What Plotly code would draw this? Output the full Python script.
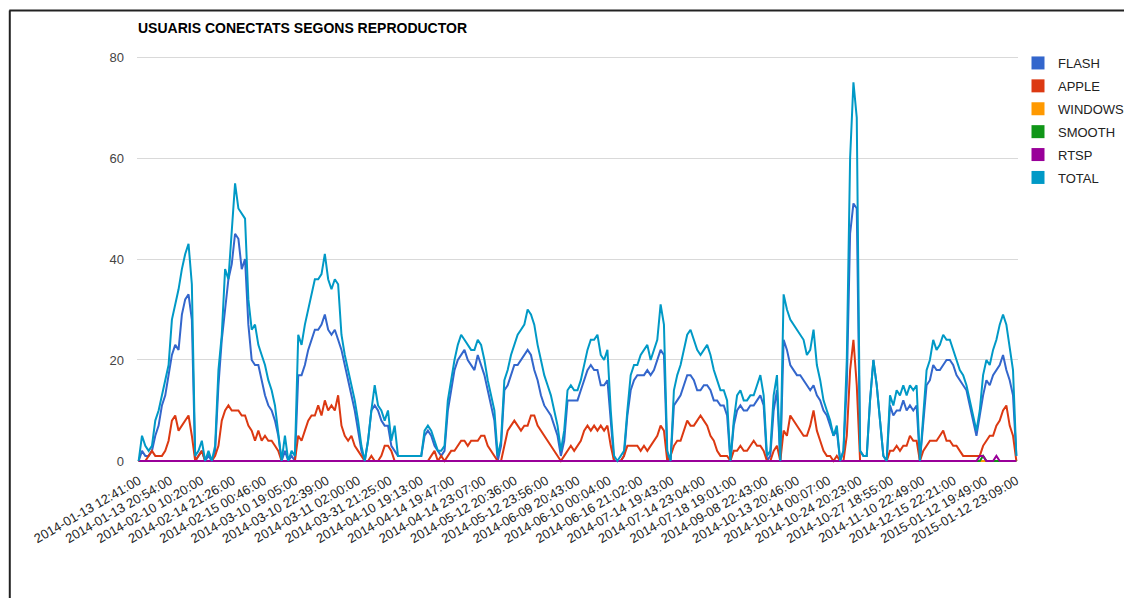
import plotly.graph_objects as go

# textos
titol = "USUARIS CONECTATS SEGONS REPRODUCTOR"
etiquetes = [
    "2014-01-13 12:41:00", "2014-01-13 20:54:00", "2014-02-10 10:20:00",
    "2014-02-14 21:26:00", "2014-02-15 00:46:00", "2014-03-10 19:05:00",
    "2014-03-10 22:39:00", "2014-03-11 02:00:00", "2014-03-31 21:25:00",
    "2014-04-10 19:13:00", "2014-04-14 19:47:00", "2014-04-14 23:07:00",
    "2014-05-12 20:36:00", "2014-05-12 23:56:00", "2014-06-09 20:43:00",
    "2014-06-10 00:04:00", "2014-06-16 21:02:00", "2014-07-14 19:43:00",
    "2014-07-14 23:04:00", "2014-07-18 19:01:00", "2014-09-08 22:43:00",
    "2014-10-13 20:46:00", "2014-10-14 00:07:00", "2014-10-24 20:23:00",
    "2014-10-27 18:55:00", "2014-11-10 22:49:00", "2014-12-15 22:21:00",
    "2015-01-12 19:49:00", "2015-01-12 23:09:00",
]

# usuaris per reproductor (llegits del grafic)
flash = [
    0, 2, 1, 1, 2, 5, 7, 11, 13, 17, 21, 23, 22, 29, 32, 33, 28, 0, 1, 2, 0, 1, 0, 2, 15, 24, 30, 36, 39, 45, 44,
    38, 40, 27, 20, 19, 19, 16, 13, 11, 10, 8, 5, 0, 2, 0, 1, 0, 17, 17, 19, 22, 24, 26, 26, 27, 29, 26, 25, 26, 24,
    22, 19, 16, 13, 10, 6, 2, 0, 4, 10, 11, 10, 8, 7, 7, 3, 2, 1, 1, 1, 1, 1, 1, 1, 1, 5, 6, 5, 3, 2, 1, 2, 10,
    14, 18, 20, 21, 22, 20, 19, 18, 21, 19, 17, 14, 11, 8, 0, 3, 14, 15, 17, 19, 19, 20, 21, 22, 21, 18, 16, 13,
    11, 10, 9, 7, 5,
    1, 4, 12, 12, 12, 12, 14, 16, 18, 19, 18, 18, 15, 15, 16, 8, 0, 0, 0, 1, 9, 14, 16, 17, 17, 17, 18, 17, 18,
    20, 22, 21, 1, 0, 11, 12, 13, 15, 17, 17, 16, 14, 14, 15, 15, 14, 12, 12, 11, 11, 9, 0, 7, 10, 11, 10, 10, 11,
    11, 12, 13, 11, 0, 1, 10, 14, 0,
    24, 22, 19, 18, 17, 17, 16, 15, 14, 15, 13, 12, 10, 9, 7, 5, 6, 0, 2, 15, 45, 51, 50, 2, 1, 1, 12, 20, 15, 8,
    1, 0, 11, 9, 10, 10, 12, 10, 11, 10, 11, 0, 7, 15, 16, 19, 18, 18, 19, 20, 20, 19, 17, 16, 15, 14, 11, 8, 5,
    9, 13, 16, 15, 17, 18, 19, 21, 18, 16, 13, 1,
]
apple = [
    0, 0, 0, 1, 2, 1, 1, 1, 2, 4, 8, 9, 6, 7, 8, 9, 5, 0, 1, 2, 0, 0, 0, 1, 3, 8, 10, 11, 10, 10, 10, 9, 9, 7, 6,
    4, 6, 4, 5, 4, 4, 3, 2, 0, 0, 0, 0, 0, 5, 4, 6, 8, 9, 9, 11, 9, 12, 10, 11, 10, 13,
    7, 5, 4, 5, 3, 2, 1, 0, 0, 1, 0, 0, 1, 3, 3, 2, 0, 0, 0, 0, 0, 0, 0, 0, 0, 0, 0, 1, 2, 0, 1, 0, 1, 2, 2, 3,
    4, 4, 3, 4, 4, 4, 5, 5, 3, 2, 1, 0, 0, 3, 6, 7, 8, 7, 6, 7, 7, 9, 9, 7, 6, 5, 4, 3, 2, 1,
    0, 1, 2, 3, 2, 3, 4, 6, 7, 6, 7, 6, 7, 6, 7, 3, 0, 0, 0, 1, 3, 3, 3, 3, 2, 3, 2, 3, 4, 5, 7, 6, 0, 1, 3, 4,
    4, 6, 8, 7, 7, 8, 9, 8, 7, 5, 4, 2, 1, 1, 1, 0, 2, 2, 3, 2, 2, 3, 4, 3, 3, 2, 0, 0, 2, 3, 0,
    6, 5, 9, 8, 7, 6, 5, 5, 7, 10, 6, 4, 2, 1, 1, 0, 1, 0, 0, 5, 18, 24, 15, 0, 0, 0, 0, 0, 0, 0, 0, 0, 2, 2, 3,
    2, 3, 3, 5, 4, 4, 0, 2, 3, 4, 4, 4, 5, 6, 4, 4, 3, 3, 2, 1, 1, 1, 1, 1, 1, 3, 4, 5, 5, 7, 8, 10, 11, 7, 5, 0,
]
windows = [0] * 265
smooth = [0] * 254 + [1] + [0] * 10
rtsp = [0] * 253 + [1, 1, 0, 0, 0, 1, 0, 0, 0, 0, 0, 0]
total = [
    0, 5, 3, 2, 3, 8, 10, 13, 16, 19, 28, 31, 34, 38, 41, 43, 35, 1, 2, 4, 0, 2, 0, 3, 18, 25, 38, 36, 46, 55, 50,
    49, 48, 32, 26, 27, 23, 21, 19, 16, 14, 11, 6, 0, 5, 0, 2, 1, 25, 23, 27, 30, 33, 36, 36, 37, 41, 36, 34, 36, 35,
    25, 21, 18, 15, 12, 8, 3, 0, 4, 10, 15, 11, 10, 8, 10, 4, 7, 1, 1, 1, 1, 1, 1, 1, 1, 6, 7, 6, 4, 2, 2, 3, 12,
    16, 20, 23, 25, 24, 23, 22, 22, 24, 23, 20, 16, 13, 10, 1, 4, 16, 18, 21, 23, 25, 26, 27, 30, 29, 27, 23, 20,
    17, 15, 13, 10, 7,
    2, 6, 14, 15, 14, 14, 16, 19, 22, 24, 24, 25, 21, 20, 22, 10, 1, 0, 1, 2, 10, 17, 19, 19, 21, 22, 23, 20, 22,
    24, 31, 27, 2, 0, 14, 17, 19, 22, 25, 26, 24, 22, 21, 22, 23, 21, 18, 16, 14, 14, 12, 0, 8, 13, 14, 12, 12, 13,
    13, 15, 17, 13, 1, 2, 13, 17, 0,
    33, 30, 28, 27, 26, 25, 24, 21, 22, 26, 19, 16, 12, 10, 8, 5, 7, 0, 2, 20, 60, 75, 68, 2, 1, 1, 12, 20, 15, 8,
    1, 0, 13, 11, 14, 13, 15, 13, 15, 14, 15, 0, 9, 18, 20, 24, 22, 23, 25, 24, 24, 22, 20, 18, 17, 15, 12, 9, 6,
    10, 17, 20, 19, 22, 24, 27, 29, 27, 22, 18, 1,
]

series = [
    ("FLASH", flash, "#3366cc"),
    ("APPLE", apple, "#dc3912"),
    ("WINDOWS", windows, "#ff9900"),
    ("SMOOTH", smooth, "#109618"),
    ("RTSP", rtsp, "#990099"),
    ("TOTAL", total, "#0099c6"),
]

n = len(total)
x = list(range(n))
posicions = [i * (n - 1) / (len(etiquetes) - 1) for i in range(len(etiquetes))]

fig = go.Figure()
for nom, valors, color in series:
    fig.add_trace(go.Scatter(x=x, y=valors, mode="lines", name=nom, showlegend=False,
                             line=dict(color=color, width=2), hoverinfo="skip"))
# llegenda amb quadrats
for nom, valors, color in series:
    fig.add_trace(go.Scatter(x=[None], y=[None], mode="markers", name=nom, legendgroup=nom,
                             marker=dict(symbol="square", size=13, color=color)))

# la pagina html te 8px de marge al body
off = 8
W, H = 1132 - off, 598 - off
ml, mt = 137 - off, 54 - off
pw, ph = 883, 410
mr, mb = W - ml - pw, H - mt - ph


def px(v):
    return (v - off - ml) / pw


def py(v):
    return (H - mb - (v - off)) / ph


fig.update_layout(
    width=W, height=H,
    margin=dict(l=ml, r=mr, t=mt, b=mb),
    paper_bgcolor="white", plot_bgcolor="white",
    font=dict(family="Liberation Sans, Arial, sans-serif", size=13, color="#222222"),
    title=dict(text="<b>" + titol + "</b>", x=(138 - off) / W, xref="container", xanchor="left",
               y=1 - (28 - off) / H, yref="container", yanchor="middle",
               font=dict(size=14, color="#000000")),
    xaxis=dict(range=[-0.5, n - 0.5], tickvals=posicions, ticktext=etiquetes, tickangle=-30,
               showgrid=False, zeroline=False, showline=False, ticks="", automargin=False,
               ticklabelstandoff=6, tickfont=dict(size=13, color="#222222")),
    yaxis=dict(range=[-0.6, 80.6], tickvals=[0, 20, 40, 60, 80], showgrid=True, gridcolor="#d9d9d9",
               zeroline=False, showline=False, ticks="", automargin=False,
               ticklabelstandoff=12, tickfont=dict(size=13, color="#444444")),
    legend=dict(xref="container", yref="container", x=(1018 - off) / W, y=1 - (48 - off) / H,
                xanchor="left", yanchor="top", tracegroupgap=3,
                font=dict(size=13, color="#222222"), bgcolor="rgba(0,0,0,0)"),
    shapes=[
        dict(type="line", xref="paper", yref="paper", x0=px(9.5), x1=px(9.5), y0=py(598), y1=py(10.5),
             line=dict(color="#222222", width=2)),
        dict(type="line", xref="paper", yref="paper", x0=px(9), x1=px(1132), y0=py(10.5), y1=py(10.5),
             line=dict(color="#222222", width=2)),
    ],
)

fig.write_html("out.html")
